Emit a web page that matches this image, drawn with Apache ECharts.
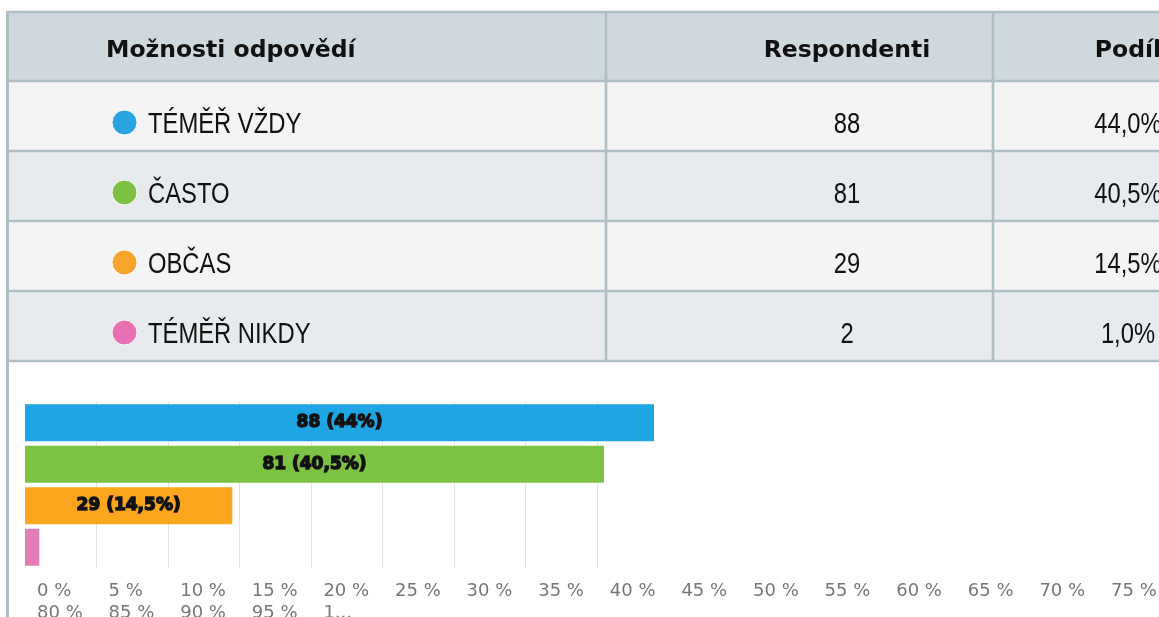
<!DOCTYPE html>
<html>
<head>
<meta charset="utf-8">
<script src="https://cdn.jsdelivr.net/npm/echarts@6/dist/echarts.min.js"></script>
<style>
html, body { margin: 0; padding: 0; background: #fff; }
#main { width: 1159px; height: 617px; }
</style>
</head>
<body>
<div id="main"></div>
<script>
// data of the table / chart
var headers = ['Možnosti odpovědí', 'Respondenti', 'Podíl'];
var categories = ['TÉMĚŘ VŽDY', 'ČASTO', 'OBČAS', 'TÉMĚŘ NIKDY'];
var respondents = [88, 81, 29, 2];
var shares = [44.0, 40.5, 14.5, 1.0];
var tickLabels = ['0 %', '5 %', '10 %', '15 %', '20 %', '25 %', '30 %', '35 %', '40 %', '45 %',
    '50 %', '55 %', '60 %', '65 %', '70 %', '75 %', '80 %', '85 %', '90 %', '95 %', '1...'];

var colors = ['#1ea5e4', '#7cc243', '#fba61c', '#e27db6'];
var dotColors = ['#2aa4e0', '#7dc144', '#f7a42c', '#e771b2'];

// table layout
var tableTop = 12, headerH = 69, rowH = 70;
var dividers = [606, 993];
var borderColor = '#b0bec5';

function shareText(v) { return v.toFixed(1).replace('.', ',') + '%'; }
function shareShort(v) { return (v % 1 === 0 ? String(v) : v.toFixed(1)).replace('.', ',') + '%'; }

var chart = echarts.init(document.getElementById('main'));

var els = [];
var tableBottom = tableTop + headerH + rowH * categories.length;

// header bg
els.push({ type: 'rect', z: -10, silent: true, shape: { x: 6, y: tableTop, width: 1160, height: headerH }, style: { fill: '#cfd8dc' } });
// rows bg
categories.forEach(function (c, i) {
    els.push({ type: 'rect', z: -10, silent: true,
        shape: { x: 6, y: tableTop + headerH + i * rowH, width: 1160, height: rowH },
        style: { fill: i % 2 ? '#e8ebed' : '#f4f4f4' } });
});

// horizontal lines
var hl = [tableTop, tableTop + headerH];
categories.forEach(function (c, i) { hl.push(tableTop + headerH + (i + 1) * rowH); });
hl.forEach(function (y) {
    els.push({ type: 'line', z: -5, silent: true, shape: { x1: 6, y1: y, x2: 1159, y2: y }, style: { stroke: borderColor, lineWidth: 2.6 } });
});
// vertical lines
dividers.forEach(function (x) {
    els.push({ type: 'line', z: -5, silent: true, shape: { x1: x, y1: tableTop, x2: x, y2: tableBottom }, style: { stroke: borderColor, lineWidth: 2.6 } });
});
els.push({ type: 'line', z: -5, silent: true, shape: { x1: 7.5, y1: tableTop - 1, x2: 7.5, y2: 617 }, style: { stroke: borderColor, lineWidth: 3 } });

// header texts
var headFont = { fontFamily: 'DejaVu Sans', fontWeight: 'bold', fontSize: 23.5, fill: '#111' };
var headY = tableTop + headerH / 2 + 4.5;
els.push({ type: 'text', style: Object.assign({ text: headers[0], x: 106, y: headY, align: 'left', verticalAlign: 'middle' }, headFont) });
els.push({ type: 'text', style: Object.assign({ text: headers[1], x: 847, y: headY, align: 'center', verticalAlign: 'middle' }, headFont) });
els.push({ type: 'text', style: Object.assign({ text: headers[2], x: 1128, y: headY, align: 'center', verticalAlign: 'middle' }, headFont) });

// row texts (narrow look: Liberation Sans squeezed)
function narrowText(txt, x, y, align) {
    return { type: 'text', x: x, y: y, scaleX: 0.82,
        style: { text: txt, x: 0, y: 0, align: align, verticalAlign: 'middle',
            fontFamily: 'Liberation Sans', fontSize: 29, fill: '#111' } };
}
categories.forEach(function (c, i) {
    var cy = tableTop + headerH + i * rowH + rowH / 2;
    els.push({ type: 'circle', shape: { cx: 124.5, cy: cy + 6.5, r: 12.5 }, style: { fill: dotColors[i], stroke: '#fff', lineWidth: 1 } });
    els.push(narrowText(c, 148, cy + 9, 'left'));
    els.push(narrowText(String(respondents[i]), 847, cy + 9, 'center'));
    els.push(narrowText(shareText(shares[i]), 1128, cy + 9, 'center'));
});

// percent labels under the chart (wrapped in two lines)
var perLine = 16;
tickLabels.forEach(function (t, i) {
    var col = i % perLine, line = Math.floor(i / perLine);
    els.push({ type: 'text', style: { text: t, x: 37 + col * 71.6, y: 591 + line * 22, align: 'left', verticalAlign: 'middle',
        fontFamily: 'DejaVu Sans', fontSize: 18, fill: '#777' } });
});

chart.setOption({
    animation: false,
    grid: { left: 25, top: 402, width: 629, height: 166, outerBoundsMode: 'none' },
    xAxis: {
        type: 'value', min: 0, max: 88, interval: 10,
        axisLabel: { show: false }, axisLine: { show: false }, axisTick: { show: false },
        splitLine: { show: true, showMinLine: false, showMaxLine: false, lineStyle: { color: '#e2e2e2', width: 1 } }
    },
    yAxis: {
        type: 'category', data: categories, inverse: true,
        axisLabel: { show: false }, axisLine: { show: false }, axisTick: { show: false }
    },
    graphic: { elements: els },
    series: [{
        type: 'bar',
        barWidth: 37,
        data: respondents.map(function (v, i) {
            return { value: v, itemStyle: { color: colors[i] } };
        }),
        label: {
            show: true, position: 'inside',
            fontFamily: 'DejaVu Sans', fontWeight: 'bold', fontSize: 17, color: '#111',
            textBorderColor: '#1a1a1a', textBorderWidth: 1.5,
            formatter: function (p) {
                if (shares[p.dataIndex] < 5) return '';
                return p.value + ' (' + shareShort(shares[p.dataIndex]) + ')';
            }
        }
    }]
});
</script>
</body>
</html>
